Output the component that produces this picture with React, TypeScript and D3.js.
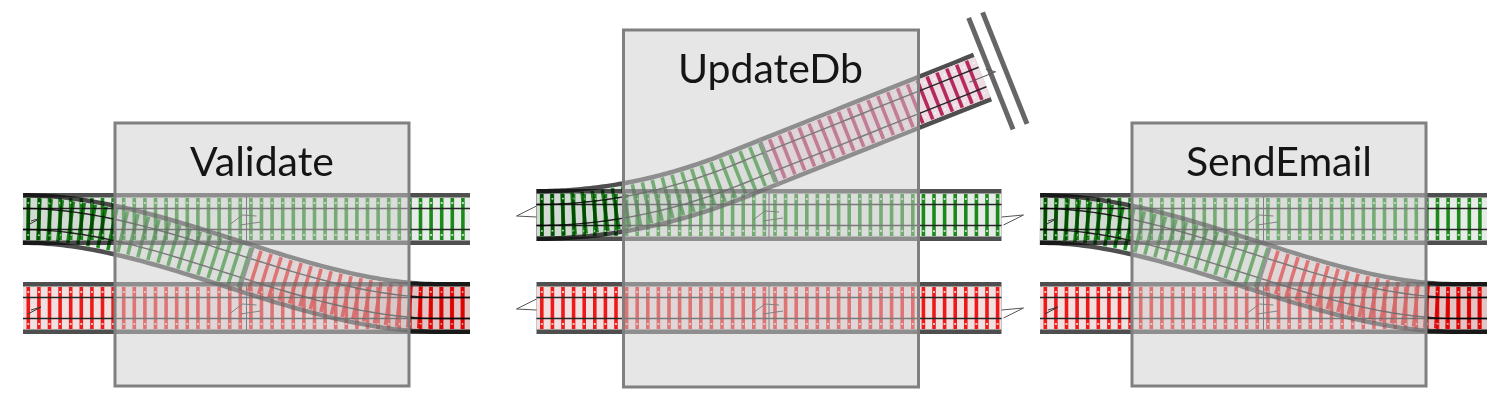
import React from "react";
import * as d3 from "d3";

// steps of the pipeline and what their side track does
const STEPS = ["Validate", "UpdateDb", "SendEmail"];
const STEP_KIND = ["switch", "deadEnd", "switch"];
const TRACKS = ["success", "failure"];
const TRACK_TIES = ["#1b8a1b", "#ee1a1a"];
const TRACK_BG = ["#e8ece8", "#f1e0e0"];
const BRANCH_TIES = [
  ["#1b8a1b", "#ee1a1a"],
  ["#1b8a1b", "#b52a5e"],
  ["#1b8a1b", "#ee1a1a"],
];
const BRANCH_BG = [
  ["#e8ece8", "#f1e0e0"],
  ["#e8ece8", "#eddde3"],
  ["#e8ece8", "#f1e0e0"],
];

const WIDTH = 1504;
const HEIGHT = 408;
const TRACK_W = 52;
const INNER_W = 43;
const TIE_STEP = 10.6;
const TIE_HALF = 21;
const RAIL_OFF = 10.5;

type Pt = [number, number];

const LAYOUT: Record<string, any> = {
  switch: { boxL: -147, boxR: 147, boxT: 123, boxB: 386, trackL: -239, trackR: 208, labelY: 176, dy: 0 },
  deadEnd: { boxL: -147, boxR: 148, boxT: 30, boxB: 387, trackL: -234, trackR: 231, labelY: 83, dy: -4 },
};

const xScale = d3.scalePoint<string>().domain(STEPS).range([262, 1279]);
const yScale = d3.scalePoint<string>().domain(TRACKS).range([219, 308]);
const line = d3.line<Pt>();

const cubic = (p0: Pt, p1: Pt, p2: Pt, p3: Pt, n: number): Pt[] =>
  d3.range(n + 1).map((i) => {
    const t = i / n, u = 1 - t;
    return [
      u * u * u * p0[0] + 3 * u * u * t * p1[0] + 3 * u * t * t * p2[0] + t * t * t * p3[0],
      u * u * u * p0[1] + 3 * u * u * t * p1[1] + 3 * u * t * t * p2[1] + t * t * t * p3[1],
    ] as Pt;
  });

const quad = (p0: Pt, p1: Pt, p2: Pt, n: number): Pt[] =>
  d3.range(n + 1).map((i) => {
    const t = i / n, u = 1 - t;
    return [
      u * u * p0[0] + 2 * u * t * p1[0] + t * t * p2[0],
      u * u * p0[1] + 2 * u * t * p1[1] + t * t * p2[1],
    ] as Pt;
  });

const measure = (pts: Pt[]) => {
  const cum = [0];
  for (let i = 1; i < pts.length; i++)
    cum.push(cum[i - 1] + Math.hypot(pts[i][0] - pts[i - 1][0], pts[i][1] - pts[i - 1][1]));
  return cum;
};

const pointAt = (pts: Pt[], cum: number[], s: number) => {
  let i = d3.bisectRight(cum, s) - 1;
  i = Math.max(0, Math.min(pts.length - 2, i));
  const a = pts[i], b = pts[i + 1];
  const seg = cum[i + 1] - cum[i] || 1;
  const t = (s - cum[i]) / seg;
  const dx = (b[0] - a[0]) / seg, dy = (b[1] - a[1]) / seg;
  return { p: [a[0] + (b[0] - a[0]) * t, a[1] + (b[1] - a[1]) * t] as Pt, n: [-dy, dx] as Pt };
};

// arc length where the centre line crosses a given x
const lengthAtX = (pts: Pt[], cum: number[], x: number) => {
  for (let i = 1; i < pts.length; i++) {
    if (pts[i][0] >= x) {
      const t = (x - pts[i - 1][0]) / (pts[i][0] - pts[i - 1][0] || 1);
      return cum[i - 1] + t * (cum[i] - cum[i - 1]);
    }
  }
  return cum[cum.length - 1];
};

const offset = (pts: Pt[], o: number): Pt[] =>
  pts.map((p, i) => {
    const a = pts[Math.max(0, i - 1)], b = pts[Math.min(pts.length - 1, i + 1)];
    const dx = b[0] - a[0], dy = b[1] - a[1], l = Math.hypot(dx, dy) || 1;
    return [p[0] - (dy / l) * o, p[1] + (dx / l) * o] as Pt;
  });

type BandProps = {
  pts: Pt[];
  ties: [string, string];
  bg: [string, string];
  split?: number;
};

const Band = ({ pts, ties: tieCols, bg, split }: BandProps) => {
  const cum = measure(pts);
  const len = cum[cum.length - 1];
  const sp = split ?? len;
  const ties = d3.range(TIE_STEP / 2, len, TIE_STEP).map((s) => ({ s, ...pointAt(pts, cum, s) }));
  const spPt = split != null ? pointAt(pts, cum, split) : null;
  const after: Pt[] = spPt ? [spPt.p, ...pts.filter((_, i) => cum[i] > sp)] : [];
  return (
    <g>
      <path d={line(pts) || ""} stroke="#4f4f4f" strokeWidth={TRACK_W} fill="none" />
      <path d={line(pts) || ""} stroke={bg[0]} strokeWidth={INNER_W} fill="none" />
      {after.length > 1 && <path d={line(after) || ""} stroke={bg[1]} strokeWidth={INNER_W} fill="none" />}
      {ties.map((t, i) => (
        <line
          key={i}
          x1={t.p[0] - t.n[0] * TIE_HALF}
          y1={t.p[1] - t.n[1] * TIE_HALF}
          x2={t.p[0] + t.n[0] * TIE_HALF}
          y2={t.p[1] + t.n[1] * TIE_HALF}
          stroke={t.s < sp ? tieCols[0] : tieCols[1]}
          strokeWidth={3.6}
        />
      ))}
      {[-16, 16].map((o) => (
        <path key={o} d={line(offset(pts, o)) || ""} stroke="#f6f6f6" strokeWidth={1.6} fill="none"
          strokeDasharray={`2 ${TIE_STEP - 2}`} strokeDashoffset={-TIE_STEP / 2 + 1} />
      ))}
      {[-RAIL_OFF, RAIL_OFF].map((o) => (
        <path key={o} d={line(offset(pts, o)) || ""} stroke="#262626" strokeWidth={1.4} fill="none" />
      ))}
      {spPt && (
        <line
          x1={spPt.p[0] - spPt.n[0] * 26}
          y1={spPt.p[1] - spPt.n[1] * 26}
          x2={spPt.p[0] + spPt.n[0] * 26}
          y2={spPt.p[1] + spPt.n[1] * 26}
          stroke="#5c5c5c"
          strokeWidth={3}
        />
      )}
    </g>
  );
};

const Step = ({ name, idx }: { name: string; idx: number }) => {
  const kind = STEP_KIND[idx];
  const L = LAYOUT[kind];
  const c = xScale(name) ?? 0;
  const x0 = c + L.trackL;
  const x1 = c + L.trackR;
  const mid = (x0 + x1) / 2;
  const yS = (yScale("success") ?? 0) + L.dy;
  const yF = yScale("failure") ?? 0;
  const trackY = [yS, yF];

  let branch: Pt[];
  if (kind === "switch") {
    const ce = x1 - 30;
    const d = ce - x0;
    branch = cubic([x0, yS], [x0 + d / 3, yS], [x0 + (2 * d) / 3, yF], [ce, yF], 80).concat([[x1, yF]]);
  } else {
    const end: Pt = [x0 + 446, yS - 138];
    const q = quad([x0, yS], [x0 + 100, yS], [x0 + 200, yS - 40], 60);
    const last = q[q.length - 1];
    const straight = d3.range(1, 31).map((i) => [
      last[0] + ((end[0] - last[0]) * i) / 30,
      last[1] + ((end[1] - last[1]) * i) / 30,
    ] as Pt);
    branch = q.concat(straight);
  }
  const bcum = measure(branch);
  const split = lengthAtX(branch, bcum, mid);

  // buffer stop at the dead end
  let buffer: React.ReactNode = null;
  if (kind === "deadEnd") {
    const a = branch[branch.length - 2], e = branch[branch.length - 1];
    const l = Math.hypot(e[0] - a[0], e[1] - a[1]);
    const u: Pt = [(e[0] - a[0]) / l, (e[1] - a[1]) / l];
    const n: Pt = [-u[1], u[0]];
    buffer = (
      <g>
        {[9, 24].map((d) => {
          const m: Pt = [e[0] + u[0] * d, e[1] + u[1] * d];
          return (
            <line key={d} x1={m[0] - n[0] * 60} y1={m[1] - n[1] * 60} x2={m[0] + n[0] * 60} y2={m[1] + n[1] * 60}
              stroke="#666" strokeWidth={5} />
          );
        })}
        <path d={`M${e[0] - u[0] * 14},${e[1] - u[1] * 14}L${e[0] + u[0] * 14},${e[1] + u[1] * 14}l${-n[0] * 6 - u[0] * 8},${-n[1] * 6 - u[1] * 8}`}
          stroke="#555" strokeWidth={1} fill="none" />
      </g>
    );
  }

  return (
    <g>
      {trackY.map((y, i) => (
        <Band key={i} pts={[[x0, y], [x1, y]]} ties={[TRACK_TIES[i], TRACK_TIES[i]]} bg={[TRACK_BG[i], TRACK_BG[i]]} />
      ))}
      <g style={{ mixBlendMode: "multiply" }}>
        <Band pts={branch} ties={BRANCH_TIES[idx] as [string, string]} bg={BRANCH_BG[idx] as [string, string]} split={split} />
      </g>
      {buffer}
      {trackY.map((y, i) => (
        <g key={i} stroke="#333" strokeWidth={1} fill="none">
          <line x1={mid} x2={mid} y1={y - 22} y2={y + 22} />
          <path d={`M${mid - 16},${y + 5}L${mid - 4},${y - 4}L${mid + 10},${y - 3}M${mid - 6},${y + 6}L${mid + 14},${y + 3}`} />
          {kind === "deadEnd" ? (
            <>
              <path d={`M${x0},${y - 9}L${x0 - 20},${y + 1}L${x0},${y + 2}`} stroke="#555" />
              <path d={`M${x1},${y + 2}L${x1 + 22},${y}L${x1 + 2},${y + 10}`} stroke="#555" />
            </>
          ) : (
            <path d={`M${x0 + 5},${y + 6}L${x0 + 18},${y - 1}L${x0 + 8},${y + 2}`} />
          )}
        </g>
      ))}
      <rect x={c + L.boxL} y={L.boxT} width={L.boxR - L.boxL} height={L.boxB - L.boxT}
        fill="#cdcdcd" fillOpacity={0.5} stroke="#808080" strokeWidth={3} />
      <text x={c} y={L.labelY} textAnchor="middle" fontFamily="Lato, 'Open Sans', sans-serif" fontSize={41} fill="#151515">
        {name}
      </text>
    </g>
  );
};

export default function App() {
  return (
    <svg width={WIDTH} height={HEIGHT} style={{ position: "absolute", left: 0, top: 0 }}>
      <rect width={WIDTH} height={HEIGHT} fill="#fff" />
      {STEPS.map((s, i) => (
        <Step key={s} name={s} idx={i} />
      ))}
    </svg>
  );
}
